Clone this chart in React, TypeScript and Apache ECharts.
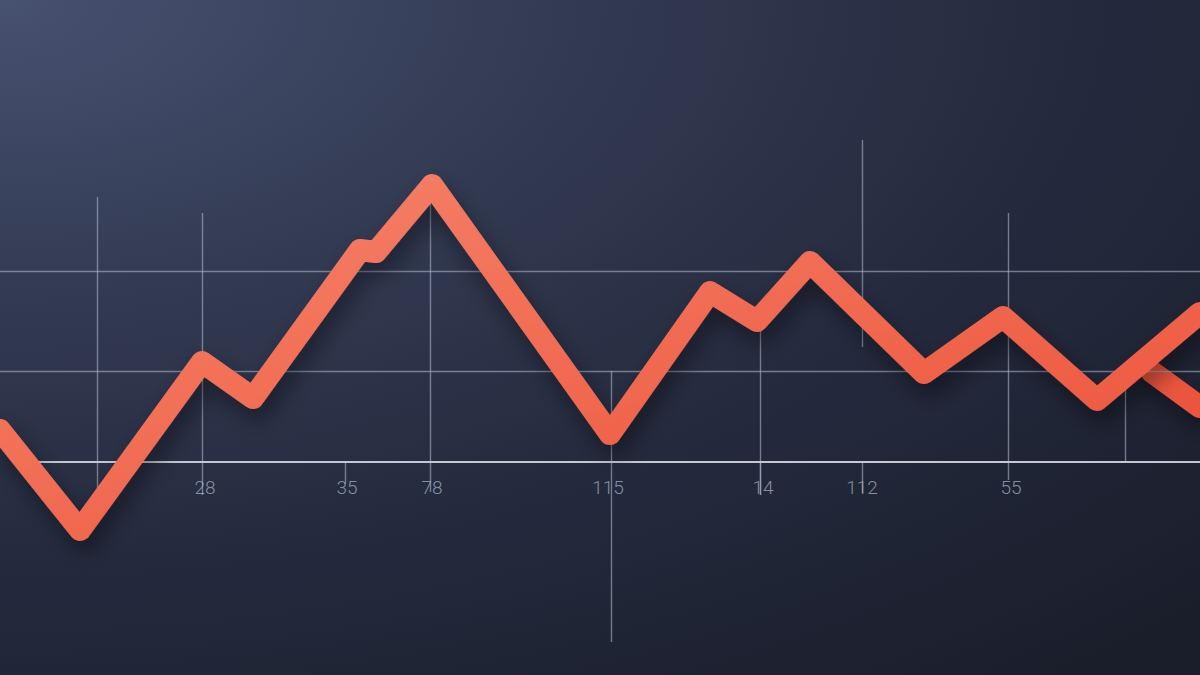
import { useEffect, useRef } from 'react'
import * as echarts from 'echarts'

// x runs 0..1200 along the plot, y is measured from the baseline (0)
const LINE_X = [0, 80, 202, 253, 360, 376, 432, 610, 710, 757, 810, 924, 1003, 1097, 1200]
const LINE_Y = [32, -68, 100, 64, 212, 210, 277, 28, 170, 141, 200, 89, 145, 62, 149]
const BRANCH_X = [1152, 1200]
const BRANCH_Y = [90, 55]

const TICK_X = [205, 347, 432, 608, 763, 862, 1011]
const TICK_LABELS = ['28', '35', '78', '115', '14', '112', '55']
const TICK_Y = -25

const GUIDE_Y = [91, 191]
// vertical guides: x, from, to
const GUIDE_X = [97, 202, 345, 430, 611, 760, 760, 862, 862, 1008, 1125]
const GUIDE_FROM = [265, 249, 0, 267, 91, 147, 0, 322, 0, 249, 91]
const GUIDE_TO = [-28, -33, -22, -30, -180, -33, -33, 115, -31, -18, 0]

const Y_MIN = -213
const Y_MAX = 462

export default function App() {
  const ref = useRef<HTMLDivElement>(null)

  useEffect(() => {
    if (!ref.current) return
    const chart = echarts.init(ref.current, null, { renderer: 'svg' })
    const guideStyle = { color: 'rgba(170,180,202,0.6)', width: 1.4, type: 'solid' as const }
    const lineColor = new echarts.graphic.LinearGradient(0, 0, 1, 1, [
      { offset: 0, color: '#f5846a' },
      { offset: 1, color: '#ec5139' },
    ])
    const shadow = { shadowColor: 'rgba(0,0,0,0.42)', shadowBlur: 22, shadowOffsetX: 5, shadowOffsetY: 12 }
    chart.setOption({
      animation: false,
      backgroundColor: 'transparent',
      grid: { left: 0, right: 0, top: 0, bottom: 0, containLabel: false, outerBoundsMode: 'none' },
      xAxis: { type: 'value', min: 0, max: 1200, show: false },
      yAxis: { type: 'value', min: Y_MIN, max: Y_MAX, show: false },
      series: [
        {
          type: 'scatter', z: 1, silent: true, symbolSize: 0,
          data: TICK_X.map((x, i) => ({ value: [x, TICK_Y], name: TICK_LABELS[i] })),
          label: {
            show: true, position: 'inside', formatter: '{b}',
            color: '#a3abbc', fontSize: 19, fontWeight: 300, fontFamily: 'Roboto, sans-serif',
          },
          markLine: {
            silent: true, symbol: 'none', label: { show: false }, lineStyle: guideStyle,
            data: [
              ...GUIDE_Y.map(y => ({ yAxis: y })),
              ...GUIDE_X.map((x, i) => [{ coord: [x, GUIDE_FROM[i]] }, { coord: [x, GUIDE_TO[i]] }]),
              [{ coord: [30, 0], lineStyle: { color: '#c3c8d4', width: 2.2 } }, { coord: [1200, 0] }],
            ],
          },
        },
        {
          type: 'line', z: 3, symbol: 'none', silent: true,
          data: BRANCH_X.map((x, i) => [x, BRANCH_Y[i]]),
          lineStyle: { color: '#ec553d', width: 22, cap: 'round', join: 'round', ...shadow },
        },
        {
          type: 'line', z: 5, symbol: 'none', silent: true,
          data: LINE_X.map((x, i) => [x, LINE_Y[i]]),
          lineStyle: { color: lineColor, width: 22, cap: 'round', join: 'round', ...shadow },
        },
      ],
    })
    return () => chart.dispose()
  }, [])

  return (
    <div
      ref={ref}
      style={{
        position: 'absolute', left: 0, top: 0, width: 1200, height: 675,
        background: 'radial-gradient(ellipse 140% 130% at 0% 0%, #475170 0%, #323a52 35%, #242a3d 65%, #1a1e2b 100%)',
      }}
    />
  )
}
